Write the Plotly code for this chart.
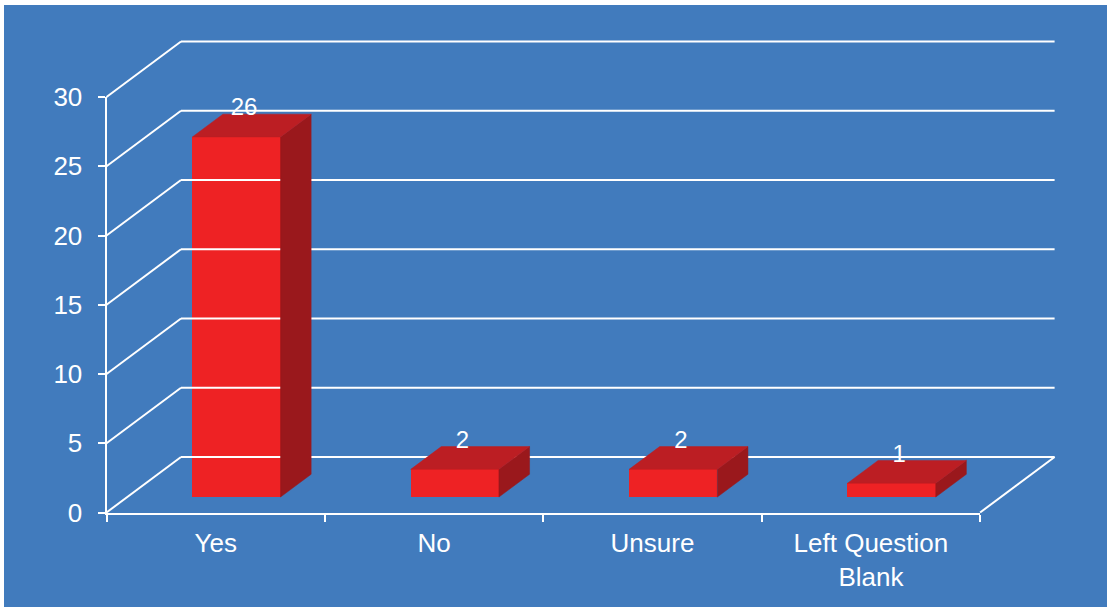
import plotly.graph_objects as go

# ---------------- data ----------------
categories = ["Yes", "No", "Unsure", "Left Question<br>Blank"]
values = [26, 2, 2, 1]
y_ticks = [0, 5, 10, 15, 20, 25, 30]

# ---------------- layout constants (pixels) ----------------
W, H = 1107, 607
X0, UX = 106.5, 218.4      # front axis x pixel, px per category
Y0, UY = 512.5, 13.85      # front axis y pixel for value 0, px per value unit
DEPTH_PX = (74.5, 55.5)    # full-depth offset in pixels (right, up)

DXu = DEPTH_PX[0] / UX     # depth offset in category units
DYv = DEPTH_PX[1] / UY     # depth offset in value units
D0, D1 = 0.278, 0.689      # bar depth span (fraction of full depth)
BAR_W = 0.404
N = len(categories)
VMAX = y_ticks[-1]

BLUE = "#417BBD"
RED_FRONT = "#EE2224"
RED_TOP = "#BC1E23"
RED_SIDE = "#9A181C"
WHITE = "#FFFFFF"
FONT = "Liberation Sans, Arial, sans-serif"

fig = go.Figure()

# --- walls: back-wall gridlines and left-wall diagonals ---
gx, gy = [], []
for v in y_ticks:
    gx += [DXu, N + DXu, None]
    gy += [v + DYv, v + DYv, None]
    gx += [0, DXu, None]
    gy += [v, v + DYv, None]
# floor right edge
gx += [N, N + DXu, None]
gy += [0, DYv, None]
fig.add_trace(go.Scatter(x=gx, y=gy, mode="lines",
                         line=dict(color=WHITE, width=2),
                         hoverinfo="skip", showlegend=False))

# --- bars ---
dd = D1 - D0
base = D0 * DYv
xc = [i + 0.5 + D0 * DXu for i in range(N)]
for i, v in enumerate(values):
    xl, xr = xc[i] - BAR_W / 2, xc[i] + BAR_W / 2
    vt = base + v
    # side face
    fig.add_trace(go.Scatter(
        x=[xr, xr, xr + dd * DXu, xr + dd * DXu, xr],
        y=[base, vt, vt + dd * DYv, base + dd * DYv, base],
        fill="toself", fillcolor=RED_SIDE, mode="lines",
        line=dict(color=RED_SIDE, width=0.5),
        hoverinfo="skip", showlegend=False))
    # top face
    fig.add_trace(go.Scatter(
        x=[xl, xr, xr + dd * DXu, xl + dd * DXu, xl],
        y=[vt, vt, vt + dd * DYv, vt + dd * DYv, vt],
        fill="toself", fillcolor=RED_TOP, mode="lines",
        line=dict(color=RED_TOP, width=0.5),
        hoverinfo="skip", showlegend=False))

# front faces
fig.add_trace(go.Bar(x=xc, y=values, base=[base] * N, width=BAR_W,
                     marker=dict(color=RED_FRONT, line=dict(width=0)),
                     hoverinfo="skip", showlegend=False))

# data labels
fig.add_trace(go.Scatter(
    x=[c + 0.035 for c in xc], y=[v + 3.1 for v in values],
    mode="text", text=[str(v) for v in values],
    textposition="middle center",
    textfont=dict(color=WHITE, size=24, family=FONT),
    hoverinfo="skip", showlegend=False))

# invisible trace on the axis subplot
fig.add_trace(go.Scatter(x=[0.5], y=[0], xaxis="x2", yaxis="y2",
                         mode="markers", marker=dict(opacity=0),
                         hoverinfo="skip", showlegend=False))

fig.update_layout(
    template="none",
    width=W, height=H,
    autosize=False,
    margin=dict(l=0, r=0, t=0, b=0, pad=0),
    paper_bgcolor=WHITE,
    plot_bgcolor="rgba(0,0,0,0)",
    font=dict(family=FONT, color=WHITE),
    bargap=0,
    showlegend=False,
    shapes=[dict(type="rect", xref="paper", yref="paper",
                 x0=4 / W, x1=1, y0=0, y1=1 - 5 / H,
                 fillcolor=BLUE, line=dict(width=0), layer="below")],
    xaxis=dict(domain=[0, 1], range=[-X0 / UX, (W - X0) / UX],
               visible=False, fixedrange=True, automargin=False),
    yaxis=dict(domain=[0, 1], range=[(Y0 - H) / UY, Y0 / UY],
               visible=False, fixedrange=True, automargin=False),
    xaxis2=dict(domain=[X0 / W, (X0 + N * UX) / W], range=[0, N],
                anchor="y2", showline=True, linecolor=WHITE, linewidth=2,
                showgrid=False, zeroline=False, automargin=False,
                tickmode="array", tickvals=[i + 0.5 for i in range(N)],
                ticktext=categories, ticks="", ticklabelstandoff=6,
                tickfont=dict(size=26, color=WHITE, family=FONT),
                minor=dict(tickmode="linear", tick0=0, dtick=1,
                           ticks="outside", ticklen=7, tickwidth=2,
                           tickcolor=WHITE, showgrid=False),
                fixedrange=True),
    yaxis2=dict(domain=[(H - Y0) / H, (H - (Y0 - VMAX * UY)) / H],
                range=[0, VMAX], anchor="x2", showline=True,
                linecolor=WHITE, linewidth=2, showgrid=False, zeroline=False,
                automargin=False,
                tickmode="array", tickvals=y_ticks, ticks="outside",
                ticklen=7, tickwidth=2, tickcolor=WHITE,
                ticklabelstandoff=10,
                tickfont=dict(size=26, color=WHITE, family=FONT),
                fixedrange=True),
)

fig.write_html("out.html",
               config={"displayModeBar": False},
               post_script="document.body.style.margin='0';document.body.style.overflow='hidden';")
